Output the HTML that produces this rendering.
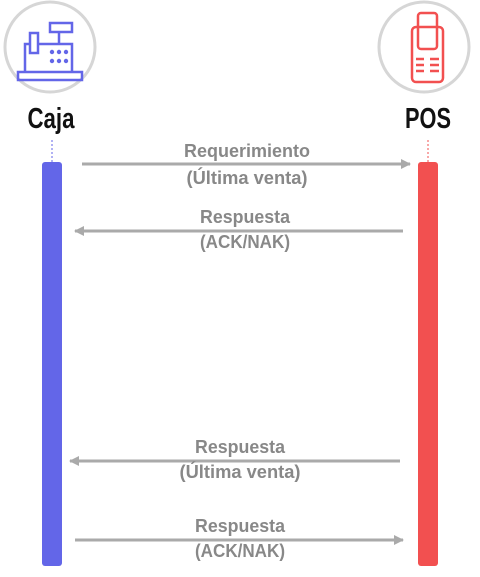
<!DOCTYPE html>
<html><head><meta charset="utf-8"><style>html,body{margin:0;padding:0;background:#fff;}svg{display:block}</style></head>
<body>
<svg width="480" height="577" viewBox="0 0 480 577" xmlns="http://www.w3.org/2000/svg" font-family="'Liberation Sans',sans-serif" font-weight="bold">
<defs>
<marker id="ah" markerWidth="10" markerHeight="10" refX="9" refY="5" orient="auto" markerUnits="userSpaceOnUse">
<path d="M0,0 L10,5 L0,10 z" fill="#aaa"/></marker>
</defs>
<circle cx="50" cy="47" r="45" fill="#fff" stroke="#d6d6d6" stroke-width="3"/>
<g fill="none" stroke="#6366e8" stroke-width="2.5">
<rect x="18" y="72" width="64" height="8"/>
<path d="M25 72 V44 H30 M38 44 H72 V72"/>
<rect x="30" y="33" width="8" height="20"/>
<rect x="50" y="23" width="22" height="9"/>
<path d="M59 32 V44"/>
</g>
<g fill="#6366e8"><circle cx="52" cy="52" r="2.2"/><circle cx="59" cy="52" r="2.2"/><circle cx="66" cy="52" r="2.2"/><circle cx="52" cy="61" r="2.2"/><circle cx="59" cy="61" r="2.2"/><circle cx="66" cy="61" r="2.2"/></g>
<circle cx="424" cy="47" r="45" fill="#fff" stroke="#d6d6d6" stroke-width="3"/>
<g fill="none" stroke="#f25050" stroke-width="2.5">
<rect x="412" y="27" width="31" height="55" rx="4"/>
<rect x="418" y="13" width="19" height="36" rx="3"/>
<path d="M416 59h8M430 59h9M416 65h8M430 65h9M416 71h8M430 71h9"/>
</g>
<g transform="translate(0,128) scale(1,1.2)">
<text x="51" y="0" font-size="24" text-anchor="middle" fill="#111" textLength="47" lengthAdjust="spacingAndGlyphs">Caja</text>
<text x="428" y="0" font-size="24" text-anchor="middle" fill="#111" textLength="46" lengthAdjust="spacingAndGlyphs">POS</text>
</g>
<line x1="52" y1="140" x2="52" y2="163" stroke="#6366e8" stroke-dasharray="2,2"/>
<line x1="428" y1="140" x2="428" y2="163" stroke="#f25050" stroke-dasharray="2,2"/>
<rect x="42" y="162" width="20" height="404" rx="3" fill="#6366e8"/>
<rect x="418" y="162" width="20" height="404" rx="3" fill="#f25050"/>
<g stroke="#aaa" stroke-width="3" marker-end="url(#ah)">
<line x1="82" y1="164" x2="410" y2="164"/>
<line x1="403" y1="231" x2="75" y2="231"/>
<line x1="400" y1="461" x2="70" y2="461"/>
<line x1="75" y1="540" x2="403" y2="540"/>
</g>
<g fill="#888" font-size="18" text-anchor="middle">
<text x="247" y="157" textLength="126" lengthAdjust="spacingAndGlyphs">Requerimiento</text>
<text x="247" y="184" textLength="121" lengthAdjust="spacingAndGlyphs">(Última venta)</text>
<text x="245" y="223" textLength="90" lengthAdjust="spacingAndGlyphs">Respuesta</text>
<text x="245" y="248" textLength="90" lengthAdjust="spacingAndGlyphs">(ACK/NAK)</text>
<text x="240" y="453" textLength="90" lengthAdjust="spacingAndGlyphs">Respuesta</text>
<text x="240" y="478" textLength="121" lengthAdjust="spacingAndGlyphs">(Última venta)</text>
<text x="240" y="532" textLength="90" lengthAdjust="spacingAndGlyphs">Respuesta</text>
<text x="240" y="557" textLength="90" lengthAdjust="spacingAndGlyphs">(ACK/NAK)</text>
</g>
</svg>
</body></html>
